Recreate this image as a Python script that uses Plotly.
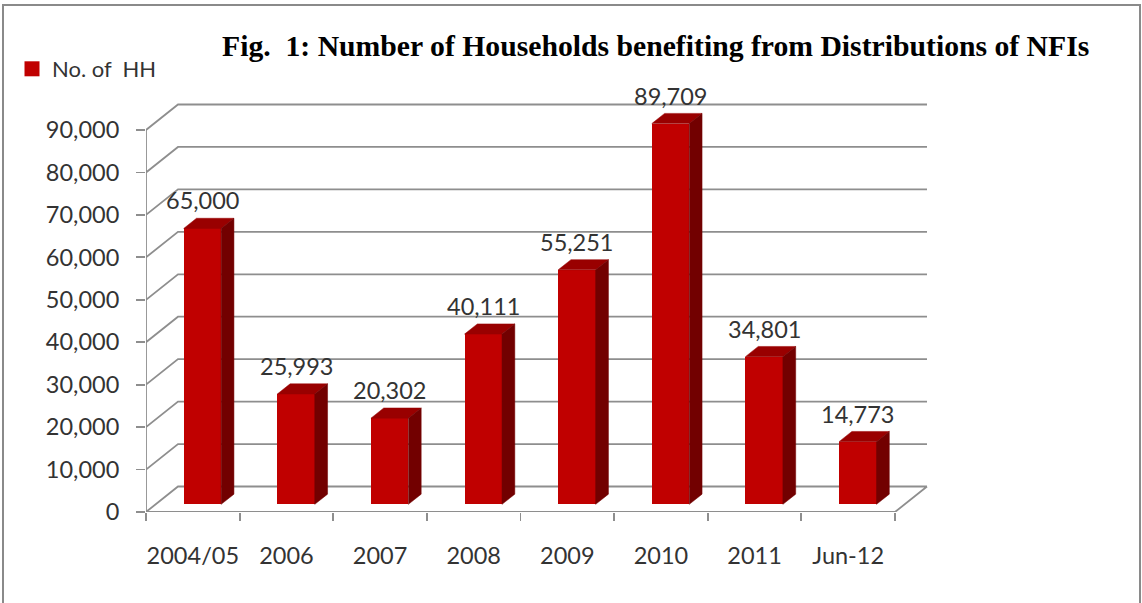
import plotly.graph_objects as go

# ---------------- data ----------------
categories = ["2004/05", "2006", "2007", "2008", "2009", "2010", "2011", "Jun-12"]
households = [65000, 25993, 20302, 40111, 55251, 89709, 34801, 14773]
y_ticks = [0, 10000, 20000, 30000, 40000, 50000, 60000, 70000, 80000, 90000]
series_name = "No. of\u00a0 HH"
title_text = "Fig.\u00a0 1: Number of Households benefiting from Distributions of NFIs"

# ---------------- geometry / style ----------------
W, H = 1142, 603
PLOT_L, PLOT_R, PLOT_T, PLOT_B = 146, 960, 80, 512
N = len(categories)
CW = 749 / N                      # px per category
PPV = 382 / max(y_ticks)          # px per value unit
DX, DY = 32, 25.5                 # depth offset of back wall in px
Z_FRONT, Z_BACK = 0.3, 0.7
BAR_W = 0.4

dxu = DX / CW
dyv = DY / PPV
xr = [0, (PLOT_R - PLOT_L) / CW]
yr = [0, (PLOT_B - PLOT_T) / PPV]

FRONT = "#C00000"
TOP = "#990000"
SIDE = "#720000"
GRID = "#8e8e8e"
TXT = "#333333"
FONT = "Lato"
FS = 23.5


def proj(x, v, z):
    return x + z * dxu, v + z * dyv


# ---------------- walls / gridlines (shapes, below traces) ----------------
segs = []
for t in y_ticks:
    a = proj(0, t, 0)
    b = proj(0, t, 1)
    c = proj(N, t, 1)
    segs.append(f"M{a[0]},{a[1]} L{b[0]},{b[1]} L{c[0]},{c[1]}")
segs.append(f"M0,0 L0,{max(y_ticks)}")
fr = proj(N, 0, 1)
segs.append(f"M0,0 L{N},0 L{fr[0]},{fr[1]}")

shapes = [dict(type="path", xref="x", yref="y", path=" ".join(segs),
               line=dict(color=GRID, width=1.8), layer="below")]


def px_x(p):
    return (p - PLOT_L) / (PLOT_R - PLOT_L)


def px_y(p):
    return (PLOT_B - p) / (PLOT_B - PLOT_T)


shapes.append(dict(type="rect", xref="paper", yref="paper",
                   x0=px_x(3), x1=px_x(1140), y0=px_y(625), y1=px_y(5),
                   line=dict(color="#8a8a8a", width=2), layer="below"))

fig = go.Figure()

# front faces
fig.add_trace(go.Bar(
    x=[i + 0.5 + Z_FRONT * dxu for i in range(N)],
    y=households,
    base=[Z_FRONT * dyv] * N,
    width=BAR_W,
    marker=dict(color=FRONT, line=dict(width=0)),
    name=series_name,
    showlegend=False,
    hoverinfo="skip",
))

# legend entry (square marker)
fig.add_trace(go.Scatter(
    x=[None], y=[None], mode="markers", name=series_name,
    marker=dict(symbol="square", size=15, color=FRONT), showlegend=True))

# top and side faces
for i, v in enumerate(households):
    xl = i + 0.5 - BAR_W / 2
    xrr = i + 0.5 + BAR_W / 2
    ftl = proj(xl, v, Z_FRONT)
    ftr = proj(xrr, v, Z_FRONT)
    btl = proj(xl, v, Z_BACK)
    btr = proj(xrr, v, Z_BACK)
    fbr = proj(xrr, 0, Z_FRONT)
    bbr = proj(xrr, 0, Z_BACK)
    fig.add_trace(go.Scatter(
        x=[ftl[0], ftr[0], btr[0], btl[0], ftl[0]],
        y=[ftl[1], ftr[1], btr[1], btl[1], ftl[1]],
        mode="lines", fill="toself", fillcolor=TOP,
        line=dict(color=TOP, width=0.5), showlegend=False, hoverinfo="skip"))
    fig.add_trace(go.Scatter(
        x=[ftr[0], btr[0], bbr[0], fbr[0], ftr[0]],
        y=[ftr[1], btr[1], bbr[1], fbr[1], ftr[1]],
        mode="lines", fill="toself", fillcolor=SIDE,
        line=dict(color=SIDE, width=0.5), showlegend=False, hoverinfo="skip"))

# data labels
annotations = []
for i, v in enumerate(households):
    x, y = proj(i + 0.5, v, Z_FRONT)
    annotations.append(dict(x=x, y=y, xref="x", yref="y", text=f"{v:,}",
                            showarrow=False, yanchor="bottom", yshift=12,
                            font=dict(family=FONT, size=FS, color=TXT)))

# title
annotations.append(dict(x=px_x(655), y=px_y(46), xref="paper", yref="paper",
                        text=f"<b>{title_text}</b>", showarrow=False,
                        xanchor="center", yanchor="middle",
                        font=dict(family="Liberation Serif", size=29.7, color="#000000")))

fig.update_layout(
    width=W, height=H,
    margin=dict(l=PLOT_L, r=W - PLOT_R, t=PLOT_T, b=H - PLOT_B, autoexpand=False),
    paper_bgcolor="white", plot_bgcolor="white",
    shapes=shapes, annotations=annotations,
    bargap=0,
    showlegend=True,
    legend=dict(xref="container", yref="container", x=12 / W, y=1 - 69 / H,
                xanchor="left", yanchor="middle", bgcolor="rgba(0,0,0,0)",
                font=dict(family=FONT, size=22, color=TXT)),
    xaxis=dict(range=xr, tickmode="array",
               tickvals=[i + 0.5 for i in range(N)], ticktext=categories,
               ticks="", showgrid=False, zeroline=False, showline=False,
               ticklabelstandoff=27, automargin=False, fixedrange=True,
               tickfont=dict(family=FONT, size=FS, color=TXT),
               minor=dict(tickmode="array", tickvals=list(range(N + 1)),
                          ticks="outside", ticklen=8, tickwidth=1.8,
                          tickcolor=GRID, showgrid=False)),
    yaxis=dict(range=yr, tickmode="array", tickvals=y_ticks, tickformat=",",
               ticks="outside", ticklen=9, tickwidth=1.8, tickcolor=GRID,
               showgrid=False, zeroline=False, showline=False,
               ticklabelstandoff=12, automargin=False, fixedrange=True,
               tickfont=dict(family=FONT, size=FS, color=TXT)),
)

fig.write_html(
    "out.html",
    config={"displayModeBar": False, "staticPlot": True},
    post_script="document.body.style.margin='0';document.body.style.overflow='hidden';",
)
